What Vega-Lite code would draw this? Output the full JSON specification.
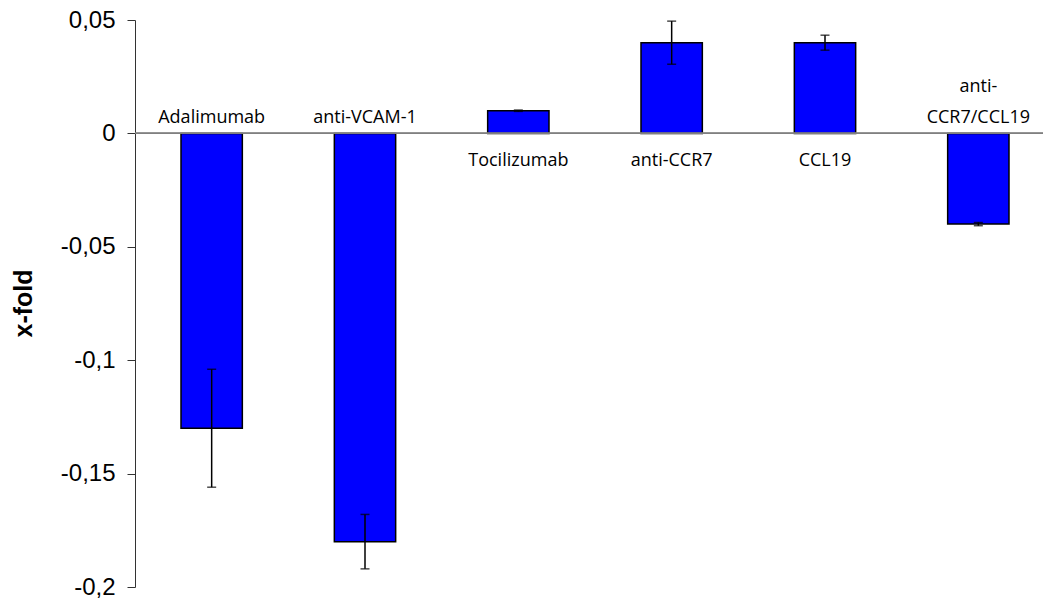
{
  "$schema": "https://vega.github.io/schema/vega-lite/v6.json",
  "width": 908,
  "height": 567,
  "autosize": {"type": "none"},
  "padding": {"left": 135, "top": 20, "right": 0, "bottom": 14},
  "background": "white",
  "config": {
    "view": {"stroke": null},
    "locale": {
      "number": {"decimal": ",", "thousands": ".", "grouping": [3], "currency": ["", " €"], "minus": "-"}
    }
  },
  "data": {
    "values": [
      {"name": "Adalimumab", "label": "Adalimumab", "value": -0.13, "lo": -0.156, "hi": -0.104},
      {"name": "anti-VCAM-1", "label": "anti-VCAM-1", "value": -0.18, "lo": -0.192, "hi": -0.168},
      {"name": "Tocilizumab", "label": "Tocilizumab", "value": 0.01, "lo": 0.0097, "hi": 0.0103},
      {"name": "anti-CCR7", "label": "anti-CCR7", "value": 0.04, "lo": 0.0305, "hi": 0.0495},
      {"name": "CCL19", "label": "CCL19", "value": 0.04, "lo": 0.0367, "hi": 0.0433},
      {"name": "anti-CCR7/CCL19", "label": "anti-\nCCR7/CCL19", "value": -0.04, "lo": -0.0407, "hi": -0.0393}
    ]
  },
  "encoding": {
    "x": {
      "field": "name",
      "type": "nominal",
      "sort": null,
      "scale": {"range": [0, 920], "paddingInner": 0.6, "paddingOuter": 0.3},
      "axis": null
    }
  },
  "layer": [
    {
      "mark": {"type": "bar", "fill": "#0000FF", "stroke": "#000000", "strokeWidth": 1.5},
      "encoding": {
        "y": {
          "field": "value",
          "type": "quantitative",
          "scale": {"domain": [-0.2, 0.05], "nice": false, "zero": false},
          "axis": {
            "values": [-0.2, -0.15, -0.1, -0.05, 0, 0.05],
            "format": ".2~f",
            "grid": false,
            "domainColor": "#333333",
            "domainWidth": 1,
            "tickColor": "#333333",
            "tickSize": 8,
            "labelPadding": 12,
            "labelFont": "Liberation Sans",
            "labelFontSize": 24,
            "labelColor": "#000000",
            "title": "x-fold",
            "titleFont": "Liberation Sans",
            "titleFontSize": 25,
            "titleFontWeight": "bold",
            "titleColor": "#000000",
            "titleX": -112,
            "titleY": 283,
            "titleAngle": -90,
            "titleAlign": "center",
            "titleBaseline": "middle"
          }
        },
        "y2": {"datum": 0}
      }
    },
    {
      "mark": {"type": "rule", "color": "#808080", "strokeWidth": 1.2},
      "encoding": {"y": {"datum": 0}, "x": null}
    },
    {
      "mark": {"type": "rule", "color": "#000000", "strokeWidth": 1.5},
      "encoding": {
        "y": {"field": "lo", "type": "quantitative"},
        "y2": {"field": "hi"}
      }
    },
    {
      "mark": {"type": "tick", "color": "#000000", "size": 9, "thickness": 1.5},
      "encoding": {"y": {"field": "lo", "type": "quantitative"}}
    },
    {
      "mark": {"type": "tick", "color": "#000000", "size": 9, "thickness": 1.5},
      "encoding": {"y": {"field": "hi", "type": "quantitative"}}
    },
    {
      "transform": [{"filter": "datum.value < 0 && indexof(datum.label, '\\n') < 0"}],
      "mark": {
        "type": "text",
        "font": "Open Sans",
        "fontSize": 18,
        "color": "#000000",
        "baseline": "alphabetic",
        "align": "center",
        "dy": -10
      },
      "encoding": {"y": {"datum": 0}, "text": {"field": "label"}}
    },
    {
      "transform": [{"filter": "datum.value < 0 && indexof(datum.label, '\\n') >= 0"}],
      "mark": {
        "type": "text",
        "font": "Open Sans",
        "fontSize": 18,
        "color": "#000000",
        "baseline": "alphabetic",
        "align": "center",
        "lineBreak": "\n",
        "lineHeight": 31,
        "dy": -41
      },
      "encoding": {"y": {"datum": 0}, "text": {"field": "label"}}
    },
    {
      "transform": [{"filter": "datum.value > 0"}],
      "mark": {
        "type": "text",
        "font": "Open Sans",
        "fontSize": 18,
        "color": "#000000",
        "baseline": "alphabetic",
        "align": "center",
        "dy": 33
      },
      "encoding": {"y": {"datum": 0}, "text": {"field": "label"}}
    }
  ]
}
